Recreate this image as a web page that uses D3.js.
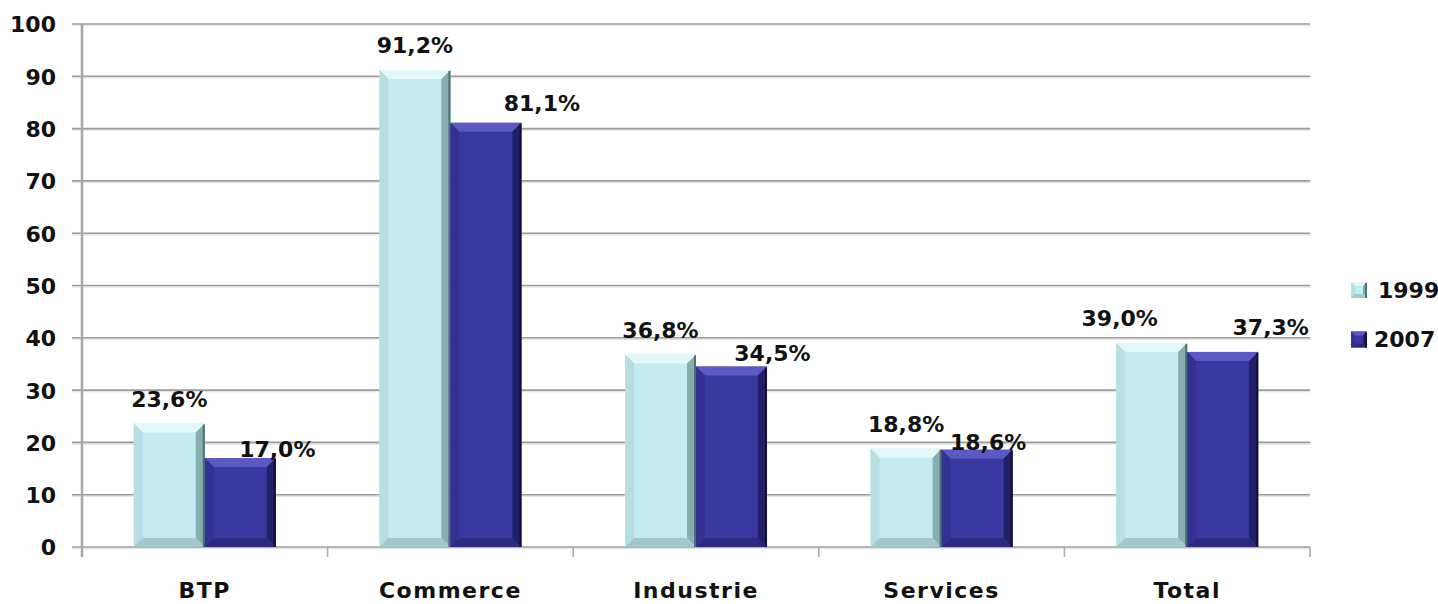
<!DOCTYPE html>
<html><head><meta charset="utf-8">
<script src="https://cdn.jsdelivr.net/npm/d3@7"></script>
<style>
html,body{margin:0;padding:0;background:#fff;}
svg text{font-family:"DejaVu Sans",sans-serif;font-weight:bold;fill:#111;}
</style></head>
<body>
<svg id="chart" width="1438" height="604"></svg>
<script>
const categories = ["BTP", "Commerce", "Industrie", "Services", "Total"];
const series = ["1999", "2007"];
const values1999 = [23.6, 91.2, 36.8, 18.8, 39.0];
const values2007 = [17.0, 81.1, 34.5, 18.6, 37.3];
const yTicks = [0, 10, 20, 30, 40, 50, 60, 70, 80, 90, 100];
// label nudges (px) for each series label [dx, dy]
const nudge1999 = [[0,-17],[0,-17],[0,-17],[0,-17],[-32,-17]];
const nudge2007 = [[37,-1],[56,-12],[41,-6],[11,0],[48,-17]];

const W = 1438, H = 604;
const m = {left: 82, right: 128, top: 24, bottom: 57};
const svg = d3.select("#chart");

const x = d3.scaleBand().domain(categories).range([m.left, W - m.right]).paddingInner(0).paddingOuter(0);
const x1 = d3.scaleBand().domain(series).range([0, x.bandwidth()]).paddingInner(0).paddingOuter(0.73);
const y = d3.scaleLinear().domain([0, 100]).range([H - m.bottom, m.top]);

const colors = {
  "1999": {face:"#c4ebee", top:"#e3f8f9", left:"#b6dfe2", right:"#86aeb1", bottom:"#a3c8cb", edge:"#4f7073"},
  "2007": {face:"#3a389e", top:"#5b5ac4", left:"#333293", right:"#211f66", bottom:"#2b2a80", edge:"#12113d"}
};

// gridlines
const grid = svg.append("g");
yTicks.forEach(t => {
  grid.append("line").attr("x1", m.left - 10).attr("x2", W - m.right)
    .attr("y1", y(t) + 1.5).attr("y2", y(t) + 1.5).attr("stroke", "#e6e6e6").attr("stroke-width", 1.5);
  grid.append("line").attr("x1", m.left - 10).attr("x2", W - m.right)
    .attr("y1", y(t)).attr("y2", y(t)).attr("stroke", "#9c9c9c").attr("stroke-width", 1.6);
});
// y axis line
svg.append("line").attr("x1", m.left).attr("x2", m.left).attr("y1", y(100)).attr("y2", y(0) + 10)
  .attr("stroke", "#a8a8a8").attr("stroke-width", 2.5);
// category separator ticks
x.domain().forEach((c, i) => {
  if (i === 0) return;
  svg.append("line").attr("x1", x(c)).attr("x2", x(c)).attr("y1", y(0)).attr("y2", y(0) + 10)
    .attr("stroke", "#a8a8a8").attr("stroke-width", 1.5);
});
svg.append("line").attr("x1", W - m.right).attr("x2", W - m.right).attr("y1", y(0)).attr("y2", y(0) + 10)
  .attr("stroke", "#a8a8a8").attr("stroke-width", 1.5);

// y tick labels
const yAxis = d3.axisLeft(y).tickValues(yTicks).tickSize(0).tickPadding(26);
const ya = svg.append("g").attr("transform", `translate(${m.left},0)`).call(yAxis);
ya.select(".domain").remove();
ya.selectAll("text").attr("font-size", 22).attr("font-family", "DejaVu Sans").attr("font-weight", "bold").attr("fill", "#111").attr("dy", "0.36em");

// x labels
const xAxis = d3.axisBottom(x).tickSize(0);
const xa = svg.append("g").attr("transform", `translate(0,${y(0)})`).call(xAxis);
xa.select(".domain").remove();
xa.selectAll("text").attr("y", 51).attr("dy", 0).attr("font-size", 22).attr("letter-spacing", 1.5)
  .attr("font-family", "DejaVu Sans").attr("font-weight", "bold").attr("fill", "#111");

// bevel bar
function bevelBar(g, x0, x1p, y0, y1, c, bmax) {
  const b = Math.min(bmax, (y1 - y0) / 2);
  g.append("rect").attr("x", x0).attr("y", y0).attr("width", x1p - x0).attr("height", y1 - y0).attr("fill", c.face);
  const poly = (pts, fill) => g.append("polygon").attr("points", pts.map(p => p.join(",")).join(" ")).attr("fill", fill);
  poly([[x0,y0],[x1p,y0],[x1p-b,y0+b],[x0+b,y0+b]], c.top);
  poly([[x0,y0],[x0+b,y0+b],[x0+b,y1-b],[x0,y1]], c.left);
  poly([[x1p,y0],[x1p,y1],[x1p-b,y1-b],[x1p-b,y0+b]], c.right);
  poly([[x0,y1],[x0+b,y1-b],[x1p-b,y1-b],[x1p,y1]], c.bottom);
  g.append("line").attr("x1", x1p - 1).attr("x2", x1p - 1).attr("y1", y0 + 1).attr("y2", y1).attr("stroke", c.edge).attr("stroke-width", 2);
}

const data = [
  {s: "1999", vals: values1999, nudge: nudge1999},
  {s: "2007", vals: values2007, nudge: nudge2007}
];
const bars = svg.append("g");
data.forEach(d => {
  categories.forEach((cat, i) => {
    const bx = x(cat) + x1(d.s);
    bevelBar(bars, bx, bx + x1.bandwidth(), y(d.vals[i]), y(0), colors[d.s], 9);
  });
});
// labels
const fmt = v => v.toFixed(1).replace(".", ",") + "%";
data.forEach(d => {
  categories.forEach((cat, i) => {
    const cx = x(cat) + x1(d.s) + x1.bandwidth() / 2;
    svg.append("text").attr("x", cx + d.nudge[i][0]).attr("y", y(d.vals[i]) + d.nudge[i][1])
      .attr("text-anchor", "middle").attr("font-size", 22).text(fmt(d.vals[i]));
  });
});

// legend
const lg = svg.append("g");
series.forEach((s, i) => {
  const ly = 290 + i * 49.5;
  const c = colors[s];
  const sx = 1351, sz = 16;
  bevelBar(lg, sx, sx + sz, ly - sz / 2, ly + sz / 2, c, 4);
  lg.append("text").attr("x", i === 0 ? 1378 : 1374).attr("y", ly).attr("dy", "0.36em").attr("font-size", 22).text(s);
});
</script>
</body></html>
